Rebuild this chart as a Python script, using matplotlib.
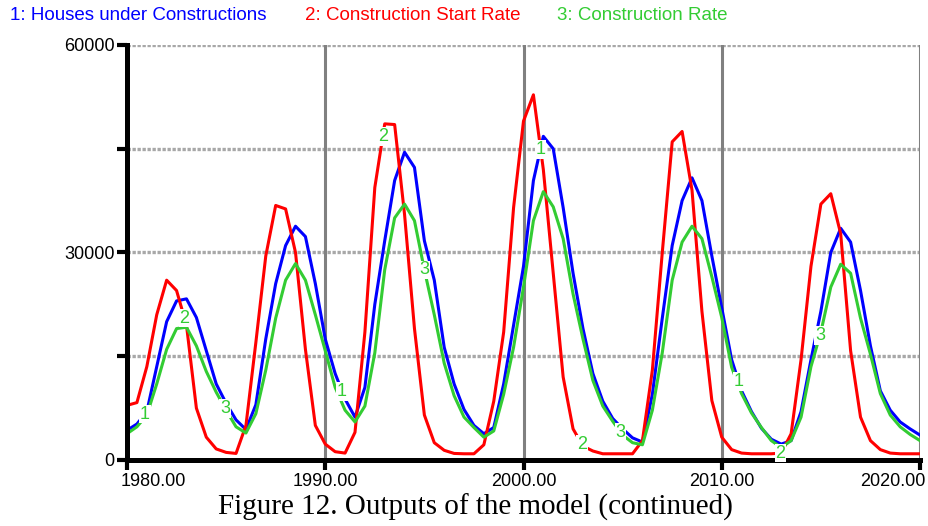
import numpy as np
import matplotlib
matplotlib.use("Agg")
import matplotlib.pyplot as plt
from matplotlib.transforms import ScaledTranslation

plt.rcParams['font.family'] = ['Liberation Sans', 'DejaVu Sans']

# half-year samples 1980..2020
years = np.arange(1980, 2020.01, 0.5)

houses = [4300, 5200, 7000, 13500, 20000, 23000, 23300, 20600, 15800, 11000,
          8200, 5800, 4400, 8000, 17500, 25500, 31000, 33800, 32300, 25500,
          17500, 12500, 8800, 6200, 10500, 22500, 31700, 40400, 44500, 42300,
          31700, 26000, 16300, 11000, 7300, 5000, 3800, 4700, 11000, 19500,
          28000, 40400, 46800, 45000, 36500, 27000, 19000, 12500, 8500, 6000,
          4500, 3200, 2600, 9500, 20500, 31000, 37500, 40800, 37500, 29500,
          22000, 14500, 10000, 7000, 4600, 3000, 2300, 2800, 7000, 14500,
          21500, 30000, 33500, 31500, 24500, 16500, 10000, 7200, 5500, 4500,
          3600]

start_rate = [7900, 8300, 13500, 21000, 26000, 24500, 19500, 7500, 3300, 1600,
              1100, 950, 5000, 17000, 29500, 36800, 36300, 30000, 16000, 5000,
              2300, 1200, 1000, 4000, 18500, 39400, 48600, 48500, 35500, 19000,
              6500, 2500, 1400, 950, 900, 900, 2200, 8500, 18500, 36500,
              49000, 52800, 42000, 27000, 12000, 4500, 2000, 1300, 900, 900,
              900, 900, 2800, 13000, 30000, 46000, 47500, 39000, 21500, 8600,
              3300, 1500, 1000, 900, 900, 900, 1000, 3800, 14500, 28000,
              37000, 38500, 32700, 15800, 6200, 2800, 1500, 1000, 900, 900,
              900]

constr_rate = [3800, 4800, 6500, 11000, 16000, 19000, 19200, 16500, 12800, 9800,
               7200, 4800, 3900, 6700, 13000, 20500, 26000, 28400, 26000, 21000,
               15800, 10500, 7200, 5500, 7800, 15500, 27500, 35000, 37000, 34600,
               27500, 21000, 14000, 9300, 6200, 4700, 3300, 4200, 9500, 16300,
               25000, 34600, 38800, 36600, 32000, 24000, 17500, 11500, 7800, 5600,
               3600, 2500, 2200, 7200, 15500, 26000, 31500, 33800, 32000, 26500,
               20600, 13400, 9600, 6800, 4700, 2800, 1800, 2800, 6200, 13500,
               18500, 25000, 28300, 27000, 20500, 15300, 9600, 6500, 4800, 3700,
               2800]

series_names = ["1: Houses under Constructions", "2: Construction Start Rate",
                "3: Construction Rate"]
colors = ["#0000ff", "#ff0000", "#33cc33"]

# series number markers along the curves (time, series index)
label_times = [1980.9, 1982.9, 1984.95, 1990.85, 1992.9, 1995.0,
               2000.85, 2002.95, 2004.9, 2010.85, 2012.95, 2014.95]
label_series = [1, 2, 3, 1, 2, 3, 1, 2, 3, 1, 2, 3]

fig = plt.figure(figsize=(9.29, 5.26), dpi=100)
ax = fig.add_axes([127/929, 1 - 460/526, 793/929, 415/526])

data = [houses, start_rate, constr_rate]
for vals, c in zip(data, colors):
    ax.plot(years, vals, color=c, lw=2.2, zorder=3)

for t, s in zip(label_times, label_series):
    yv = np.interp(t, years, data[s - 1])
    ax.text(t, yv, str(s), color="#33cc33", fontsize=13, ha='center', va='center',
            zorder=5, bbox=dict(facecolor='white', edgecolor='none', pad=0.5))

ax.set_xlim(1980, 2020)
ax.set_ylim(0, 60000)

for yg in [15000, 30000, 45000, 60000]:
    ax.axhline(yg, color='#a8a8a8', lw=2.4, ls=(0, (1, 0.5)), zorder=1)
for xg in [1990, 2000, 2010, 2020]:
    ax.axvline(xg, color='#808080', lw=2.2, zorder=1)

for s in ['top', 'right']:
    ax.spines[s].set_visible(False)
for s in ['left', 'bottom']:
    ax.spines[s].set_linewidth(3.6)
    ax.spines[s].set_zorder(4)

ax.set_yticks([0, 15000, 30000, 45000, 60000])
ax.set_yticklabels(['0', '', '30000', '', '60000'])
ax.set_xticks([1980, 1990, 2000, 2010, 2020])
ax.set_xticklabels(['1980.00', '1990.00', '2000.00', '2010.00', '2020.00'])
ax.tick_params(direction='out', length=7, width=3, labelsize=13)
ax.tick_params(axis='y', pad=2)
ax.tick_params(axis='x', pad=2)

xlabels = ax.get_xticklabels()
xlabels[0].set_ha('left')
xlabels[0].set_transform(xlabels[0].get_transform() +
                         ScaledTranslation(-0.06, 0, fig.dpi_scale_trans))
xlabels[-1].set_ha('right')
xlabels[-1].set_transform(xlabels[-1].get_transform() +
                          ScaledTranslation(0.05, 0, fig.dpi_scale_trans))

xs = [10, 305, 557]
for name, c, x in zip(series_names, colors, xs):
    fig.text(x/929, 1 - 15/526, name, color=c, fontsize=13.5, ha='left', va='center')

fig.text(475/929, 1 - 507/526, "Figure 12. Outputs of the model (continued)",
         family='Liberation Serif', fontsize=21, ha='center', va='center')

fig.savefig("out.png", dpi=100)
